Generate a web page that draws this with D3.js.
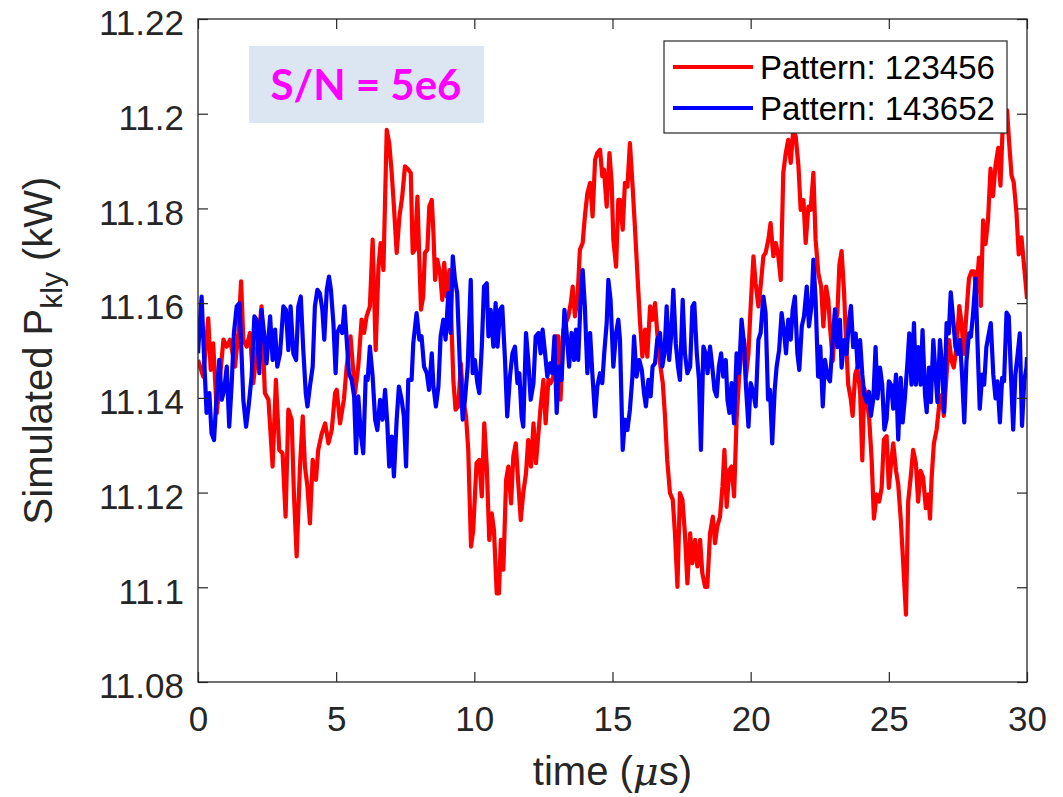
<!DOCTYPE html>
<html>
<head>
<meta charset="utf-8">
<script src="https://cdn.jsdelivr.net/npm/d3@7"></script>
<style>
  body { margin: 0; background: #fff; }
  svg { display: block; font-family: "Liberation Sans", Arial, Helvetica, sans-serif; }
</style>
</head>
<body>
<div id="chart"></div>
<script>
// time (us), simulated klystron power (kW)
const pattern123456 = [
  [0.00,11.1480],[0.19,11.1445],[0.37,11.1568],[0.46,11.1459],[0.55,11.1515],[0.68,11.1368],[0.80,11.1445],[0.92,11.1523],
  [1.04,11.1508],[1.16,11.1523],[1.34,11.1466],[1.46,11.1537],[1.56,11.1646],[1.64,11.1523],[1.76,11.1508],[1.88,11.1537],
  [2.00,11.1431],[2.12,11.1494],[2.30,11.1593],[2.42,11.1410],[2.55,11.1396],[2.70,11.1255],[2.82,11.1438],[2.94,11.1290],
  [3.06,11.1283],[3.17,11.1149],[3.27,11.1375],[3.39,11.1354],[3.47,11.1199],[3.57,11.1065],[3.69,11.1255],[3.79,11.1361],
  [3.87,11.1255],[3.96,11.1213],[4.05,11.1135],[4.15,11.1269],[4.27,11.1227],[4.35,11.1290],[4.48,11.1325],[4.60,11.1346],
  [4.72,11.1304],[4.84,11.1332],[4.96,11.1410],[5.02,11.1417],[5.14,11.1346],[5.28,11.1396],[5.38,11.1466],[5.52,11.1530],
  [5.68,11.1410],[5.80,11.1466],[5.92,11.1565],[6.01,11.1537],[6.10,11.1572],[6.22,11.1593],[6.32,11.1734],[6.43,11.1501],
  [6.53,11.1677],[6.61,11.1727],[6.71,11.1670],[6.83,11.1966],[6.92,11.1938],[7.01,11.1875],[7.09,11.1804],[7.19,11.1706],
  [7.29,11.1783],[7.39,11.1825],[7.49,11.1889],[7.61,11.1882],[7.70,11.1875],[7.77,11.1706],[7.85,11.1713],[7.94,11.1825],
  [8.01,11.1692],[8.07,11.1586],[8.15,11.1614],[8.21,11.1706],[8.30,11.1713],[8.37,11.1804],[8.46,11.1818],[8.52,11.1748],
  [8.58,11.1649],[8.66,11.1692],[8.76,11.1663],[8.84,11.1607],[8.91,11.1685],[9.00,11.1614],[9.10,11.1670],[9.18,11.1544],
  [9.24,11.1438],[9.32,11.1375],[9.42,11.1382],[9.51,11.1473],[9.60,11.1396],[9.70,11.1361],[9.78,11.1290],[9.88,11.1086],
  [9.96,11.1121],[10.08,11.1262],[10.18,11.1269],[10.27,11.1192],[10.36,11.1346],[10.45,11.1255],[10.54,11.1100],[10.63,11.1156],
  [10.71,11.1121],[10.81,11.0987],[10.89,11.0987],[10.96,11.1100],[11.05,11.1037],[11.15,11.1227],[11.23,11.1255],[11.33,11.1177],
  [11.41,11.1276],[11.50,11.1304],[11.59,11.1220],[11.68,11.1142],[11.77,11.1199],[11.87,11.1241],[11.95,11.1311],[12.05,11.1255],
  [12.14,11.1346],[12.23,11.1262],[12.32,11.1325],[12.40,11.1382],[12.50,11.1438],[12.58,11.1346],[12.68,11.1438],[12.76,11.1431],
  [12.86,11.1445],[12.94,11.1530],[13.04,11.1530],[13.12,11.1396],[13.22,11.1544],[13.31,11.1558],[13.40,11.1572],[13.49,11.1600],
  [13.56,11.1635],[13.64,11.1572],[13.73,11.1607],[13.82,11.1713],[13.92,11.1727],[14.00,11.1783],[14.09,11.1832],[14.19,11.1854],
  [14.28,11.1783],[14.37,11.1903],[14.45,11.1917],[14.55,11.1924],[14.63,11.1868],[14.69,11.1882],[14.79,11.1804],[14.89,11.1917],
  [14.97,11.1854],[15.03,11.1734],[15.13,11.1677],[15.21,11.1818],[15.27,11.1818],[15.37,11.1755],[15.45,11.1854],[15.54,11.1846],
  [15.63,11.1938],[15.72,11.1854],[15.81,11.1762],[15.90,11.1663],[15.99,11.1565],[16.08,11.1487],[16.18,11.1544],[16.26,11.1487],
  [16.36,11.1593],[16.45,11.1565],[16.54,11.1600],[16.62,11.1537],[16.72,11.1473],[16.82,11.1431],[16.90,11.1361],[16.98,11.1269],
  [17.08,11.1199],[17.18,11.1185],[17.26,11.1114],[17.35,11.1001],[17.44,11.1199],[17.53,11.1185],[17.62,11.1114],[17.71,11.1008],
  [17.81,11.1114],[17.89,11.1051],[17.99,11.1100],[18.07,11.1044],[18.17,11.1100],[18.25,11.1030],[18.35,11.1001],[18.43,11.1001],
  [18.53,11.1114],[18.63,11.1149],[18.71,11.1093],[18.79,11.1128],[18.89,11.1149],[18.98,11.1213],[19.05,11.1290],[19.13,11.1170],
  [19.23,11.1248],[19.31,11.1255],[19.40,11.1192],[19.49,11.1354],[19.59,11.1452],[19.67,11.1494],[19.76,11.1523],[19.83,11.1445],
  [19.92,11.1494],[20.00,11.1593],[20.10,11.1699],[20.18,11.1642],[20.28,11.1593],[20.36,11.1635],[20.46,11.1699],[20.54,11.1706],
  [20.64,11.1734],[20.72,11.1769],[20.82,11.1699],[20.91,11.1727],[21.00,11.1699],[21.09,11.1649],[21.18,11.1875],[21.27,11.1917],
  [21.36,11.1945],[21.45,11.1896],[21.54,11.1966],[21.63,11.1952],[21.73,11.1889],[21.81,11.1797],[21.91,11.1818],[21.99,11.1727],
  [22.09,11.1804],[22.17,11.1797],[22.27,11.1875],[22.35,11.1734],[22.45,11.1663],[22.55,11.1635],[22.63,11.1551],[22.73,11.1635],
  [22.81,11.1607],[22.87,11.1551],[22.97,11.1478],[23.05,11.1551],[23.14,11.1580],[23.21,11.1681],[23.29,11.1710],[23.38,11.1623],
  [23.45,11.1522],[23.53,11.1428],[23.62,11.1399],[23.69,11.1362],[23.78,11.1449],[23.86,11.1464],[23.96,11.1413],[24.04,11.1268],
  [24.11,11.1420],[24.20,11.1399],[24.29,11.1355],[24.38,11.1268],[24.46,11.1145],[24.56,11.1196],[24.65,11.1181],[24.74,11.1210],
  [24.82,11.1312],[24.92,11.1319],[25.00,11.1210],[25.08,11.1261],[25.16,11.1304],[25.26,11.1246],[25.34,11.1217],[25.43,11.1145],
  [25.52,11.1051],[25.62,11.0942],[25.70,11.1181],[25.79,11.1232],[25.88,11.1290],[25.98,11.1261],[26.06,11.1181],[26.15,11.1246],
  [26.24,11.1232],[26.34,11.1167],[26.43,11.1196],[26.49,11.1145],[26.55,11.1232],[26.63,11.1304],[26.73,11.1333],[26.82,11.1384],
  [26.91,11.1406],[26.99,11.1362],[27.09,11.1449],[27.18,11.1522],[27.27,11.1478],[27.35,11.1464],[27.45,11.1507],[27.55,11.1594],
  [27.63,11.1558],[27.71,11.1493],[27.81,11.1580],[27.90,11.1652],[27.99,11.1667],[28.08,11.1667],[28.17,11.1623],[28.26,11.1696],
  [28.33,11.1594],[28.41,11.1775],[28.50,11.1725],[28.59,11.1775],[28.68,11.1884],[28.77,11.1826],[28.86,11.1891],[28.96,11.1928],
  [29.04,11.1848],[29.11,11.1957],[29.20,11.1971],[29.28,11.2007],[29.35,11.1942],[29.44,11.1870],[29.52,11.1855],[29.62,11.1790],
  [29.70,11.1703],[29.80,11.1739],[29.88,11.1688],[29.98,11.1623],[30.00,11.1609]
];

const pattern143652 = [
  [0.00,11.1494],[0.13,11.1614],[0.22,11.1487],[0.31,11.1368],[0.41,11.1410],[0.49,11.1325],[0.58,11.1311],[0.68,11.1410],
  [0.77,11.1480],[0.86,11.1396],[0.95,11.1417],[1.04,11.1466],[1.13,11.1339],[1.22,11.1431],[1.30,11.1537],[1.40,11.1593],
  [1.50,11.1600],[1.58,11.1487],[1.64,11.1396],[1.74,11.1339],[1.83,11.1382],[1.94,11.1445],[2.04,11.1572],[2.12,11.1565],
  [2.22,11.1452],[2.30,11.1586],[2.39,11.1537],[2.48,11.1473],[2.61,11.1572],[2.70,11.1480],[2.79,11.1544],[2.87,11.1466],
  [2.97,11.1494],[3.09,11.1593],[3.18,11.1586],[3.27,11.1501],[3.35,11.1593],[3.45,11.1494],[3.55,11.1480],[3.63,11.1593],
  [3.72,11.1614],[3.81,11.1501],[3.90,11.1410],[3.96,11.1382],[4.05,11.1424],[4.15,11.1466],[4.23,11.1593],[4.32,11.1628],
  [4.41,11.1621],[4.50,11.1586],[4.57,11.1523],[4.66,11.1628],[4.74,11.1656],[4.81,11.1628],[4.90,11.1558],[4.98,11.1452],
  [5.04,11.1537],[5.14,11.1551],[5.22,11.1537],[5.30,11.1593],[5.38,11.1523],[5.46,11.1452],[5.56,11.1438],[5.65,11.1403],
  [5.72,11.1283],[5.80,11.1403],[5.89,11.1325],[5.98,11.1283],[6.07,11.1445],[6.14,11.1438],[6.22,11.1508],[6.32,11.1445],
  [6.41,11.1354],[6.49,11.1332],[6.59,11.1396],[6.68,11.1354],[6.77,11.1417],[6.85,11.1346],[6.92,11.1255],[7.01,11.1318],
  [7.09,11.1234],[7.19,11.1354],[7.27,11.1424],[7.37,11.1396],[7.45,11.1361],[7.53,11.1255],[7.61,11.1438],[7.73,11.1438],
  [7.79,11.1515],[7.91,11.1579],[8.01,11.1523],[8.09,11.1530],[8.18,11.1466],[8.28,11.1452],[8.36,11.1417],[8.46,11.1494],
  [8.52,11.1424],[8.61,11.1382],[8.70,11.1424],[8.78,11.1530],[8.88,11.1565],[8.96,11.1523],[9.06,11.1621],[9.14,11.1537],
  [9.22,11.1699],[9.30,11.1649],[9.38,11.1621],[9.48,11.1466],[9.58,11.1354],[9.66,11.1396],[9.76,11.1466],[9.87,11.1649],
  [9.94,11.1452],[10.02,11.1480],[10.11,11.1431],[10.18,11.1410],[10.27,11.1508],[10.35,11.1635],[10.45,11.1642],[10.51,11.1530],
  [10.59,11.1586],[10.69,11.1508],[10.77,11.1600],[10.84,11.1508],[10.93,11.1586],[11.01,11.1593],[11.11,11.1480],[11.19,11.1361],
  [11.29,11.1445],[11.38,11.1494],[11.47,11.1508],[11.56,11.1431],[11.63,11.1452],[11.71,11.1361],[11.77,11.1339],[11.87,11.1537],
  [11.95,11.1480],[12.04,11.1396],[12.14,11.1431],[12.22,11.1530],[12.32,11.1537],[12.40,11.1494],[12.47,11.1544],[12.56,11.1494],
  [12.64,11.1445],[12.74,11.1473],[12.82,11.1452],[12.90,11.1530],[12.98,11.1368],[13.06,11.1466],[13.16,11.1438],[13.26,11.1586],
  [13.34,11.1537],[13.43,11.1466],[13.52,11.1537],[13.61,11.1480],[13.68,11.1544],[13.76,11.1480],[13.85,11.1614],[13.92,11.1670],
  [14.00,11.1593],[14.09,11.1452],[14.19,11.1537],[14.27,11.1452],[14.37,11.1361],[14.45,11.1424],[14.55,11.1452],[14.63,11.1431],
  [14.70,11.1494],[14.79,11.1558],[14.85,11.1649],[14.93,11.1607],[15.03,11.1466],[15.13,11.1537],[15.21,11.1565],[15.27,11.1523],
  [15.37,11.1290],[15.45,11.1354],[15.54,11.1332],[15.63,11.1375],[15.72,11.1445],[15.78,11.1530],[15.87,11.1445],[15.97,11.1480],
  [16.06,11.1459],[16.14,11.1410],[16.21,11.1382],[16.30,11.1438],[16.38,11.1403],[16.45,11.1466],[16.54,11.1473],[16.62,11.1523],
  [16.72,11.1537],[16.80,11.1466],[16.88,11.1494],[16.96,11.1593],[17.05,11.1480],[17.12,11.1530],[17.20,11.1628],[17.29,11.1515],
  [17.37,11.1466],[17.44,11.1438],[17.54,11.1607],[17.62,11.1494],[17.71,11.1452],[17.81,11.1466],[17.89,11.1593],[17.96,11.1600],
  [18.05,11.1494],[18.13,11.1438],[18.20,11.1290],[18.29,11.1508],[18.37,11.1494],[18.44,11.1452],[18.53,11.1508],[18.61,11.1466],
  [18.69,11.1417],[18.77,11.1403],[18.85,11.1466],[18.93,11.1494],[19.01,11.1445],[19.10,11.1480],[19.16,11.1396],[19.23,11.1368],
  [19.31,11.1431],[19.40,11.1346],[19.49,11.1494],[19.58,11.1452],[19.67,11.1565],[19.76,11.1515],[19.83,11.1424],[19.92,11.1339],
  [20.00,11.1431],[20.10,11.1410],[20.18,11.1382],[20.28,11.1523],[20.36,11.1537],[20.46,11.1614],[20.54,11.1579],[20.63,11.1396],
  [20.70,11.1417],[20.78,11.1304],[20.87,11.1417],[20.94,11.1466],[21.03,11.1501],[21.12,11.1579],[21.21,11.1537],[21.28,11.1494],
  [21.36,11.1565],[21.45,11.1523],[21.52,11.1586],[21.60,11.1614],[21.69,11.1494],[21.76,11.1459],[21.85,11.1551],[21.93,11.1572],
  [22.03,11.1635],[22.11,11.1551],[22.20,11.1593],[22.27,11.1692],[22.35,11.1607],[22.44,11.1445],[22.52,11.1508],[22.61,11.1382],
  [22.69,11.1480],[22.78,11.1445],[22.87,11.1435],[22.97,11.1522],[23.05,11.1587],[23.14,11.1507],[23.23,11.1565],[23.29,11.1464],
  [23.38,11.1522],[23.47,11.1493],[23.56,11.1565],[23.63,11.1594],[23.71,11.1507],[23.80,11.1536],[23.87,11.1464],[23.96,11.1522],
  [24.04,11.1449],[24.11,11.1406],[24.20,11.1391],[24.28,11.1413],[24.35,11.1362],[24.44,11.1399],[24.52,11.1507],[24.59,11.1399],
  [24.68,11.1464],[24.76,11.1428],[24.84,11.1333],[24.92,11.1355],[25.00,11.1435],[25.08,11.1428],[25.16,11.1377],[25.26,11.1449],
  [25.34,11.1312],[25.43,11.1442],[25.50,11.1348],[25.58,11.1399],[25.67,11.1471],[25.74,11.1536],[25.82,11.1428],[25.91,11.1558],
  [25.98,11.1428],[26.06,11.1507],[26.15,11.1428],[26.22,11.1543],[26.31,11.1406],[26.37,11.1370],[26.45,11.1464],[26.52,11.1391],
  [26.61,11.1522],[26.69,11.1449],[26.76,11.1391],[26.85,11.1522],[26.93,11.1464],[27.00,11.1370],[27.09,11.1558],[27.17,11.1536],
  [27.24,11.1623],[27.33,11.1565],[27.41,11.1507],[27.49,11.1493],[27.57,11.1522],[27.65,11.1449],[27.73,11.1348],[27.81,11.1478],
  [27.90,11.1536],[27.97,11.1529],[28.05,11.1580],[28.14,11.1652],[28.21,11.1514],[28.29,11.1377],[28.38,11.1449],[28.45,11.1428],
  [28.53,11.1507],[28.62,11.1536],[28.69,11.1558],[28.78,11.1449],[28.86,11.1399],[28.93,11.1435],[29.02,11.1348],[29.10,11.1442],
  [29.17,11.1435],[29.26,11.1580],[29.34,11.1572],[29.41,11.1464],[29.50,11.1333],[29.58,11.1449],[29.65,11.1486],[29.74,11.1536],
  [29.82,11.1341],[29.90,11.1435],[29.98,11.1464],[30.00,11.1486]
];

const seriesNames = ["Pattern: 123456", "Pattern: 143652"];
const seriesColors = ["#ff0000", "#0000ff"];
const xTicks = [0, 5, 10, 15, 20, 25, 30];
const yTicks = [11.08, 11.1, 11.12, 11.14, 11.16, 11.18, 11.2, 11.22];
const note = "S/N = 5e6";

const W = 1063, H = 797;
const box = { left: 198, right: 1027, top: 19, bottom: 682 };
const axisColor = "#262626";

const svg = d3.select("#chart").append("svg")
    .attr("width", W)
    .attr("height", H);

svg.append("rect").attr("width", W).attr("height", H).attr("fill", "#fff");

const x = d3.scaleLinear().domain([0, 30]).range([box.left, box.right]);
const y = d3.scaleLinear().domain([11.08, 11.22]).range([box.bottom, box.top]);

const fmt = d => String(+d.toFixed(2));

// clip for the data lines
svg.append("clipPath").attr("id", "plotclip")
  .append("rect")
    .attr("x", box.left).attr("y", box.top)
    .attr("width", box.right - box.left).attr("height", box.bottom - box.top);

// annotation box
svg.append("rect")
    .attr("x", 249).attr("y", 46)
    .attr("width", 235).attr("height", 77)
    .attr("fill", "#dce6f2");

svg.append("text")
    .attr("x", 366).attr("y", 100)
    .attr("text-anchor", "middle")
    .style("font-family", "Lato, 'Open Sans', sans-serif")
    .style("font-weight", "bold")
    .style("font-size", "42px")
    .attr("fill", "#ff00ff")
    .text(note);

// data lines
const line = d3.line()
    .x(d => x(d[0]))
    .y(d => y(d[1]));

const lines = svg.append("g").attr("clip-path", "url(#plotclip)");
[pattern123456, pattern143652].forEach((data, i) => {
  lines.append("path")
      .datum(data)
      .attr("d", line)
      .attr("fill", "none")
      .attr("stroke", seriesColors[i])
      .attr("stroke-width", 4.2)
      .attr("stroke-linejoin", "round");
});

// axes (MATLAB style: inward ticks on all four sides)
const styleAxis = g => {
  g.select(".domain").remove();
  g.selectAll(".tick line").attr("stroke", axisColor).attr("stroke-width", 1.2);
  g.selectAll(".tick text")
      .attr("fill", axisColor)
      .style("font-size", "35px")
      .style("font-family", "'Liberation Sans', Arial, sans-serif");
};

svg.append("g")
    .attr("transform", `translate(0,${box.bottom})`)
    .call(d3.axisBottom(x).tickValues(xTicks).tickSizeInner(-10).tickSizeOuter(0).tickPadding(24).tickFormat(fmt))
    .call(styleAxis);

svg.append("g")
    .attr("transform", `translate(0,${box.top})`)
    .call(d3.axisTop(x).tickValues(xTicks).tickSizeInner(-10).tickSizeOuter(0).tickFormat(""))
    .call(styleAxis);

const yAxis = svg.append("g")
    .attr("transform", `translate(${box.left},0)`)
    .call(d3.axisLeft(y).tickValues(yTicks).tickSizeInner(-10).tickSizeOuter(0).tickPadding(14).tickFormat(fmt))
    .call(styleAxis);
yAxis.selectAll(".tick text").attr("dy", "0.45em");

svg.append("g")
    .attr("transform", `translate(${box.right},0)`)
    .call(d3.axisRight(y).tickValues(yTicks).tickSizeInner(-10).tickSizeOuter(0).tickFormat(""))
    .call(styleAxis);

svg.append("rect")
    .attr("x", box.left).attr("y", box.top)
    .attr("width", box.right - box.left).attr("height", box.bottom - box.top)
    .attr("fill", "none")
    .attr("stroke", axisColor)
    .attr("stroke-width", 1.3);

// axis labels
const xLabel = svg.append("text")
    .attr("x", (box.left + box.right) / 2).attr("y", 785)
    .attr("text-anchor", "middle")
    .attr("fill", axisColor)
    .style("font-size", "40px");
xLabel.append("tspan").text("time (");
xLabel.append("tspan").style("font-family", "'DejaVu Serif', 'Liberation Serif', serif")
    .style("font-style", "italic").text("\u03bc");
xLabel.append("tspan").text("s)");

const yLabel = svg.append("text")
    .attr("transform", `translate(52,${(box.top + box.bottom) / 2}) rotate(-90)`)
    .attr("text-anchor", "middle")
    .attr("fill", axisColor)
    .style("font-size", "40px");
yLabel.append("tspan").text("Simulated P");
yLabel.append("tspan").attr("dy", 10).style("font-size", "30px").text("kly");
yLabel.append("tspan").attr("dy", -10).text(" (kW)");

// legend
const legend = svg.append("g");
legend.append("rect")
    .attr("x", 664).attr("y", 41)
    .attr("width", 343).attr("height", 92)
    .attr("fill", "#fff")
    .attr("stroke", axisColor)
    .attr("stroke-width", 1.2);

seriesNames.forEach((name, i) => {
  const ly = 67 + i * 41;
  legend.append("line")
      .attr("x1", 673).attr("x2", 753)
      .attr("y1", ly).attr("y2", ly)
      .attr("stroke", seriesColors[i])
      .attr("stroke-width", 4.2);
  legend.append("text")
      .attr("x", 760).attr("y", ly + 12)
      .attr("fill", "#000")
      .style("font-size", "33px")
      .text(name);
});
</script>
</body>
</html>
